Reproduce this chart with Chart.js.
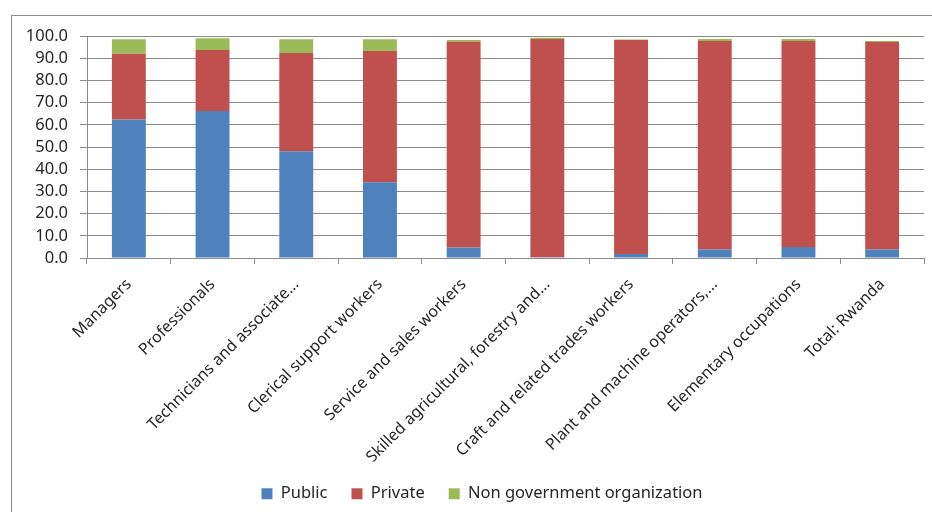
<!DOCTYPE html>
<html>
<head>
<meta charset="utf-8">
<script src="https://cdn.jsdelivr.net/npm/chart.js@4.4.1/dist/chart.umd.min.js"></script>
<style>
  html, body { margin: 0; padding: 0; background: #fff; }
  #wrap { position: relative; width: 932px; height: 512px; overflow: hidden; }
  #frame {
    position: absolute; left: 11px; top: 15px; width: 940px; height: 520px;
    border-left: 1.5px solid #8a8a8a; border-top: 1.5px solid #8a8a8a;
    pointer-events: none;
  }
</style>
</head>
<body>
<div id="wrap">
  <canvas id="chart" width="932" height="512"></canvas>
  <div id="frame"></div>
</div>
<script>
const categories = [
  'Managers',
  'Professionals',
  'Technicians and associate...',
  'Clerical support workers',
  'Service and sales workers',
  'Skilled agricultural, forestry and...',
  'Craft and related trades workers',
  'Plant and machine operators,...',
  'Elementary occupations',
  'Total: Rwanda',
];

// share of employed (%) by sector
const publicShare  = [62.4, 66.2, 48.1, 34.1, 4.7, 0.3, 1.8, 3.8, 5.0, 3.8];
const privateShare = [29.6, 27.5, 44.2, 59.1, 92.7, 98.3, 96.4, 93.9, 92.7, 93.5];
const ngoShare     = [6.5, 5.3, 6.2, 5.3, 0.8, 0.6, 0.2, 0.9, 0.9, 0.4];

const yTicks = [0, 10, 20, 30, 40, 50, 60, 70, 80, 90, 100];

const font = 'Noto Sans';
const gridGray = '#8c8c8c';

const dataset = (label, data, color) => ({
  label,
  data,
  backgroundColor: color,
  borderWidth: 0,
  categoryPercentage: 0.5,
  barPercentage: 0.81,
});

// nudge the legend a little to the right of the canvas center
const legendShift = {
  id: 'legendShift',
  afterLayout(chart) {
    const { legend } = chart;
    legend.left += 14;
    legend.right += 14;
  },
};

new Chart(document.getElementById('chart'), {
  type: 'bar',
  data: {
    labels: categories,
    datasets: [
      dataset('Public', publicShare, '#4f81bd'),
      dataset('Private', privateShare, '#c0504d'),
      dataset('Non government organization', ngoShare, '#9bbb59'),
    ],
  },
  plugins: [legendShift],
  options: {
    responsive: false,
    animation: false,
    layout: { padding: { left: 12, right: 8, top: 36, bottom: 0 } },
    scales: {
      x: {
        stacked: true,
        grid: { drawOnChartArea: false, color: gridGray, tickLength: 6, offset: true },
        border: { color: gridGray },
        ticks: {
          autoSkip: false,
          minRotation: 45,
          maxRotation: 45,
          padding: 11,
          color: '#262626',
          font: { family: font, size: 16 },
        },
        // tall enough that the longest rotated label is not clipped
        afterFit: (scale) => { scale.height = 203.5; },
      },
      y: {
        stacked: true,
        min: 0,
        max: 100,
        afterBuildTicks: (scale) => { scale.ticks = yTicks.map((value) => ({ value })); },
        grid: { color: gridGray, tickLength: 7 },
        border: { color: gridGray },
        ticks: {
          autoSkip: false,
          padding: 12,
          color: '#262626',
          font: { family: font, size: 16.5 },
          callback: (v) => Number(v).toFixed(1),
        },
        afterFit: (scale) => { scale.width = 75; },
      },
    },
    plugins: {
      legend: {
        position: 'bottom',
        labels: {
          boxWidth: 11,
          boxHeight: 11,
          padding: 24,
          color: '#262626',
          font: { family: font, size: 16.5 },
        },
      },
      tooltip: { enabled: false },
    },
  },
});
</script>
</body>
</html>
